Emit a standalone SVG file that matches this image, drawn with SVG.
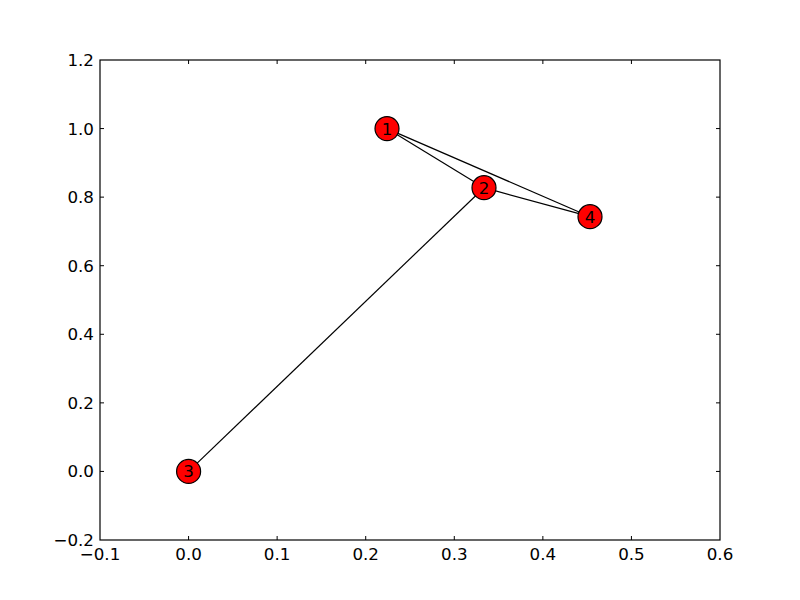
<svg xmlns="http://www.w3.org/2000/svg" width="800" height="600" viewBox="0 0 800 600">
<style>
.tick{stroke:#000;stroke-width:1}
.lbl{font-family:"DejaVu Sans",sans-serif;font-size:16.7px;fill:#000}
.yl{text-anchor:end;dominant-baseline:central}
.xl{text-anchor:middle}
.edge{stroke:#000;stroke-width:1.2}
.node circle{fill:#ff0000;stroke:#000;stroke-width:1.2}
.node text{font-family:"DejaVu Sans",sans-serif;font-size:16.7px;text-anchor:middle;dominant-baseline:central;fill:#000}
</style>
<rect width="800" height="600" fill="#fff"/>
<g id="axes">
<rect x="100" y="60" width="620" height="480" fill="none" stroke="#000" stroke-width="1.2"/>
<g class="tick">
<path d="M188.57 540v-4M277.14 540v-4M365.71 540v-4M454.29 540v-4M542.86 540v-4M631.43 540v-4M188.57 60v4M277.14 60v4M365.71 60v4M454.29 60v4M542.86 60v4M631.43 60v4"/>
<path d="M100 128.57h4M100 197.14h4M100 265.71h4M100 334.29h4M100 402.86h4M100 471.43h4M720 128.57h-4M720 197.14h-4M720 265.71h-4M720 334.29h-4M720 402.86h-4M720 471.43h-4"/>
</g>
<g class="lbl yl">
<text x="94" y="60">1.2</text>
<text x="94" y="128.57">1.0</text>
<text x="94" y="197.14">0.8</text>
<text x="94" y="265.71">0.6</text>
<text x="94" y="334.29">0.4</text>
<text x="94" y="402.86">0.2</text>
<text x="94" y="471.43">0.0</text>
<text x="94" y="540">−0.2</text>
</g>
<g class="lbl xl">
<text x="100" y="560">−0.1</text>
<text x="188.57" y="560">0.0</text>
<text x="277.14" y="560">0.1</text>
<text x="365.71" y="560">0.2</text>
<text x="454.29" y="560">0.3</text>
<text x="542.86" y="560">0.4</text>
<text x="631.43" y="560">0.5</text>
<text x="720" y="560">0.6</text>
</g>
</g>
<g id="edges" class="edge">
<line x1="387" y1="128.6" x2="484" y2="187.7"/>
<line x1="387" y1="128.6" x2="590" y2="216.7"/>
<line x1="484" y1="187.7" x2="590" y2="216.7"/>
<line x1="484" y1="187.7" x2="188.6" y2="471.4"/>
</g>
<g id="node1" class="node"><circle cx="387" cy="128.6" r="12"/><text x="387" y="128.6">1</text></g>
<g id="node2" class="node"><circle cx="484" cy="187.7" r="12"/><text x="484" y="187.7">2</text></g>
<g id="node3" class="node"><circle cx="188.6" cy="471.4" r="12"/><text x="188.6" y="471.4">3</text></g>
<g id="node4" class="node"><circle cx="590" cy="216.7" r="12"/><text x="590" y="216.7">4</text></g>
</svg>
